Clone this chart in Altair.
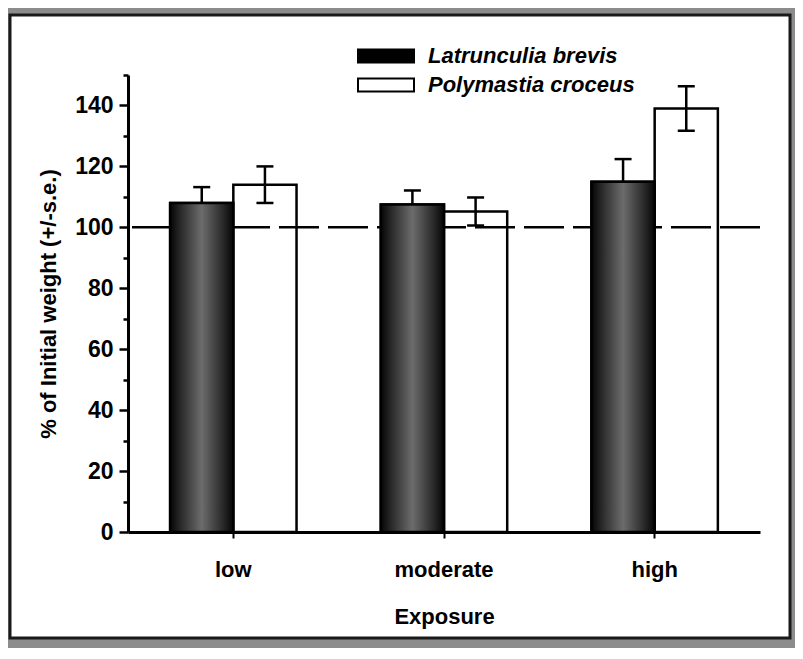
import altair as alt
import pandas as pd

# ---- data ----
exposure = ["low", "moderate", "high"]
species = ["Latrunculia brevis", "Polymastia croceus"]
lat_mean = [108.0, 107.5, 115.0]
lat_se = [5.2, 4.6, 7.4]
poly_mean = [114.0, 105.2, 139.0]
poly_se = [6.0, 4.6, 7.3]
y_ticks = list(range(0, 151, 10))
ref_level = [100]

rows = []
for i, e in enumerate(exposure):
    rows.append({"Exposure": e, "Species": species[0], "mean": lat_mean[i], "se": lat_se[i]})
    rows.append({"Exposure": e, "Species": species[1], "mean": poly_mean[i], "se": poly_se[i]})
df = pd.DataFrame(rows)
df["lo"] = df["mean"] - df["se"]
df["hi"] = df["mean"] + df["se"]
ref_df = pd.DataFrame({"level": ref_level})
panel_df = pd.DataFrame({"a": [0]})

W, H = 632, 457
FONT = "Liberation Sans"

x_axis = alt.Axis(
    title="Exposure", labelAngle=0, labelFont=FONT, labelFontSize=22, labelFontWeight="bold",
    labelColor="black", titleFont=FONT, titleFontSize=22, titleFontWeight="bold", titleColor="black",
    tickSize=6, tickWidth=2, tickColor="black", labelPadding=21, titlePadding=26,
    domainWidth=3, domainColor="black", grid=False, zindex=1,
)
y_axis = alt.Axis(
    title="% of Initial weight (+/-s.e.)", values=y_ticks,
    labelExpr="datum.value % 20 === 0 && datum.value <= 140 ? datum.label : ''",
    tickSize={"condition": {"test": "datum.value % 20 === 0", "value": 9}, "value": 5},
    tickWidth=2.5, tickColor="black", domainWidth=3, domainColor="black",
    labelFont=FONT, labelFontSize=23, labelFontWeight="bold", labelColor="black", labelPadding=6,
    titleFont=FONT, titleFontSize=22, titleFontWeight="bold", titleColor="black", titlePadding=14,
    grid=False, zindex=1,
)
y_scale = alt.Scale(domain=[0, 150], nice=False)

x_enc = alt.X("Exposure:N", sort=exposure,
              scale=alt.Scale(domain=exposure, paddingInner=0.4, paddingOuter=0.2), axis=x_axis)
xoff = alt.XOffset("Species:N", sort=species, scale=alt.Scale(domain=species))

def yq(field):
    return alt.Y(f"{field}:Q", scale=y_scale, axis=y_axis, stack=None)

panel = alt.Chart(panel_df).mark_rect(fill="white", stroke="#1a1a1a", strokeWidth=3).encode(
    x=alt.value(-118), x2=alt.value(W + 30), y=alt.value(-60), y2=alt.value(H + 106)
)

bars = alt.Chart(df).mark_bar(stroke="black", strokeWidth=2.5, opacity=1).encode(
    x=x_enc, xOffset=xoff, y=yq("mean"),
    fill=alt.Fill("Species:N", sort=species,
                  scale=alt.Scale(domain=species, range=["black", "white"]),
                  legend=alt.Legend(
                      title=None, orient="none", legendX=247, legendY=-30,
                      symbolType="M-4,-0.92H4V0.92H-4Z", symbolSize=196,
                      symbolStrokeColor="black", symbolStrokeWidth=2, symbolOpacity=1,
                      labelFont=FONT, labelFontSize=22, labelFontStyle="italic",
                      labelFontWeight="bold", labelColor="black", labelOffset=31,
                      labelLimit=400, rowPadding=7, padding=0, zindex=1,
                  )),
)

ref = alt.Chart(ref_df).mark_rule(color="black", strokeWidth=2.5, strokeDash=[40, 9]).encode(
    y=alt.Y("level:Q", scale=y_scale, axis=y_axis)
)

grad = alt.Gradient(
    gradient="linear", x1=0, x2=1, y1=0, y2=0,
    stops=[
        alt.GradientStop(color="#050505", offset=0),
        alt.GradientStop(color="#262626", offset=0.15),
        alt.GradientStop(color="#6c6c6c", offset=0.5),
        alt.GradientStop(color="#262626", offset=0.85),
        alt.GradientStop(color="#050505", offset=1),
    ],
)
dark = alt.Chart(df).transform_filter(alt.datum.Species == species[0]).mark_bar(
    fill=grad, stroke="black", strokeWidth=2.5, opacity=1
).encode(x=x_enc, xOffset=xoff, y=yq("mean"))

err = alt.Chart(df).mark_rule(color="black", strokeWidth=2.5, opacity=1).encode(
    x=x_enc, xOffset=xoff, y=yq("lo"), y2="hi:Q"
)
cap_hi = alt.Chart(df).mark_tick(color="black", thickness=2.5, size=17, opacity=1).encode(
    x=x_enc, xOffset=xoff, y=yq("hi")
)
cap_lo = alt.Chart(df).mark_tick(color="black", thickness=2.5, size=17, opacity=1).encode(
    x=x_enc, xOffset=xoff, y=yq("lo")
)

chart = alt.layer(panel, bars, ref, err, cap_hi, cap_lo, dark).properties(
    width=W, height=H,
    autosize=alt.AutoSizeParams(type="none"),
    padding={"left": 120, "top": 67, "right": 35, "bottom": 116},
    background="#8c8c8c",
).configure_view(stroke=None)

chart.save("out.html", embed_options={"renderer": "svg", "actions": False})
